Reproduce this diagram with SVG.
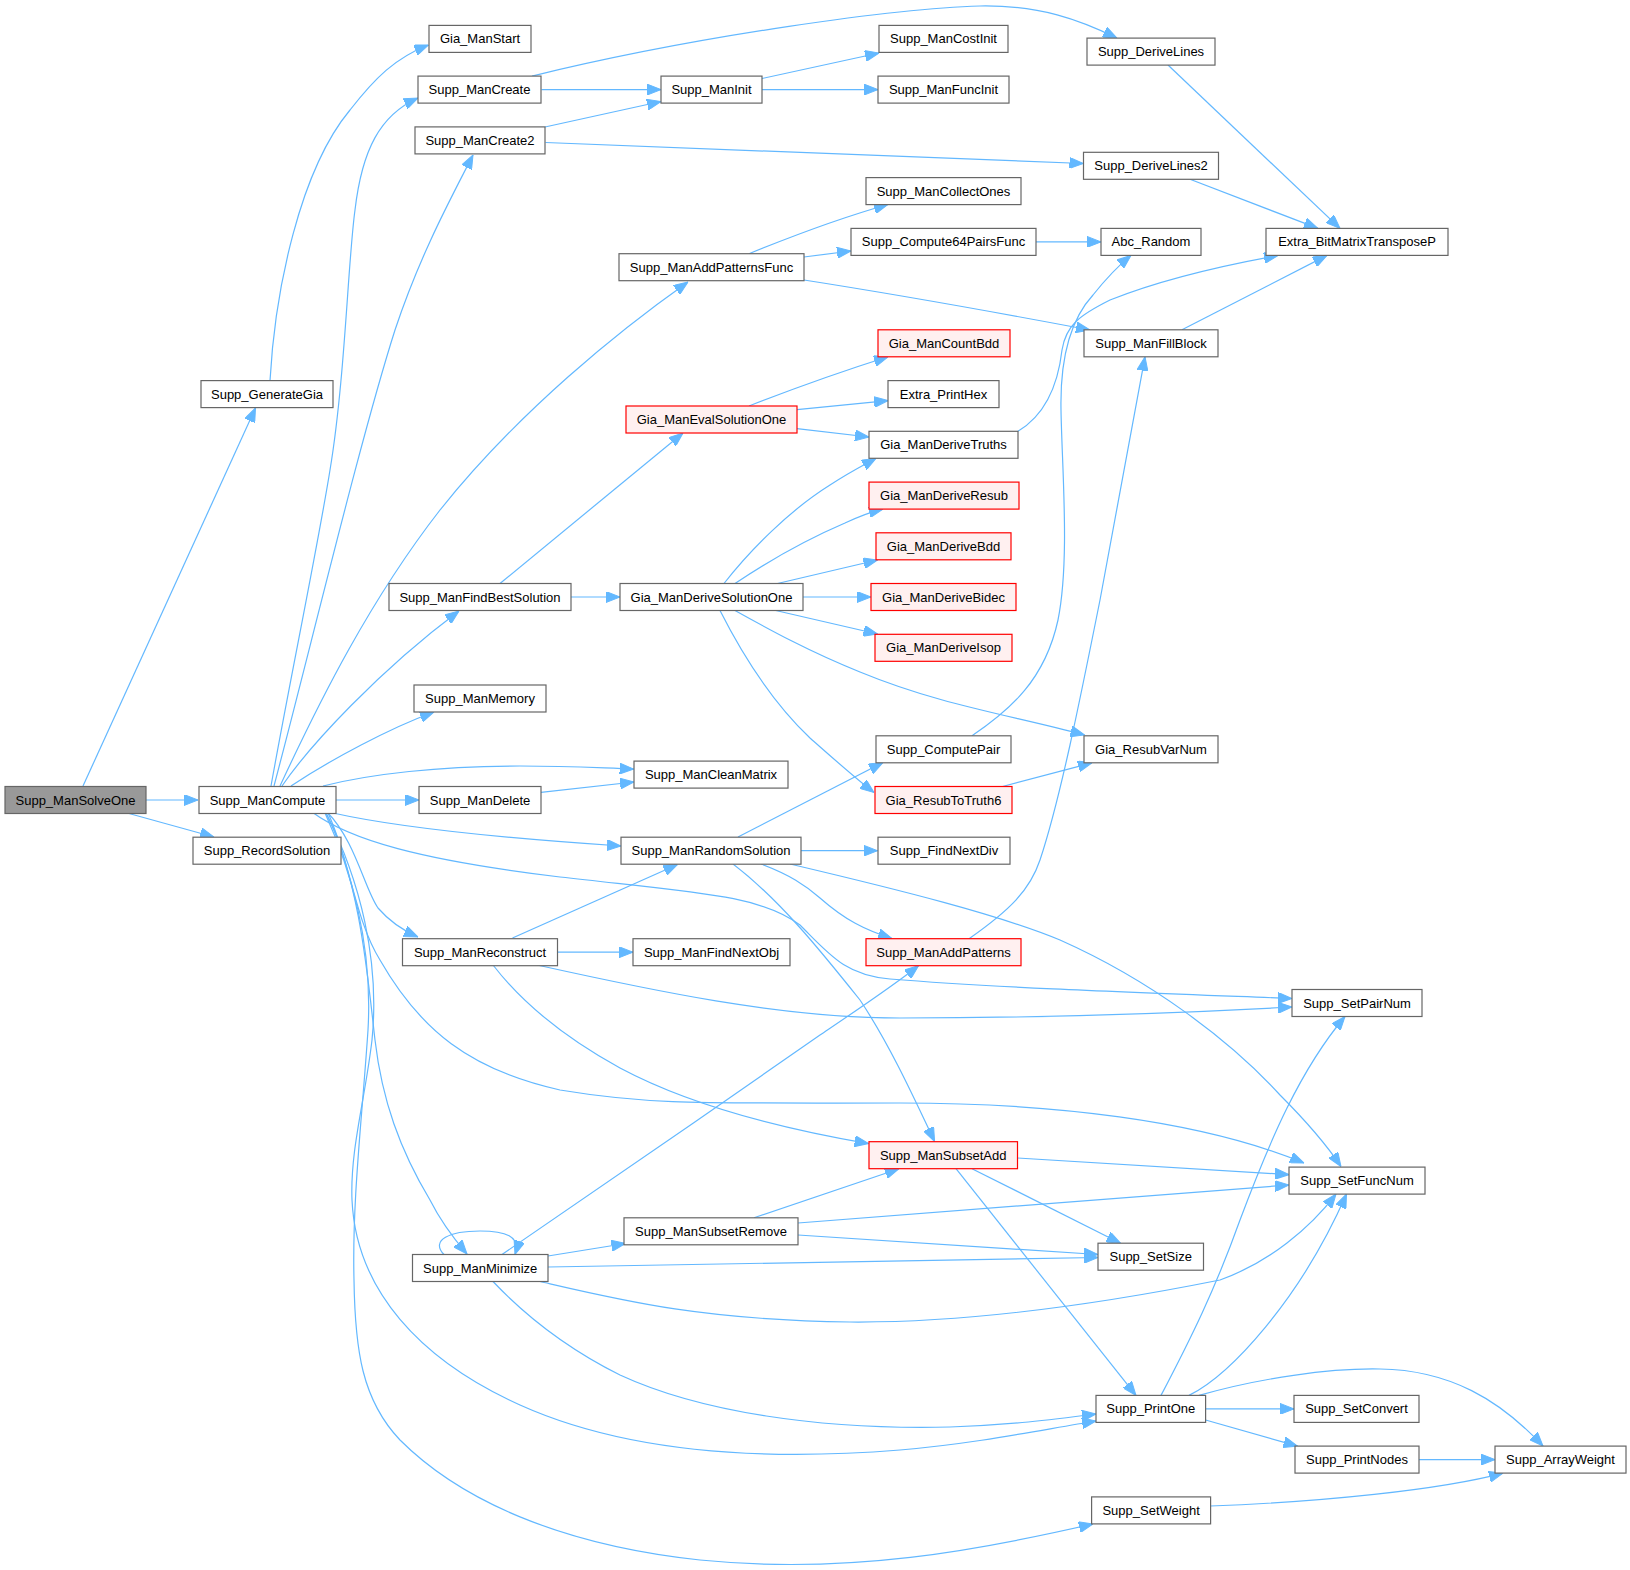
<svg xmlns="http://www.w3.org/2000/svg" width="1630" height="1570" viewBox="0 0 1630 1570">
<style>
.n rect{fill:#ffffff;stroke:#666666;stroke-width:1.2}
.n.red rect{fill:#fff0f0;stroke:#ff0000}
.n.root rect{fill:#999999;stroke:#666666}
.n text{font-family:"Liberation Sans",Arial,sans-serif;font-size:13px;fill:#000000;text-anchor:middle}
#edges path{fill:none;stroke:#63b8ff;stroke-width:1.2;marker-end:url(#arr)}
</style>
<defs>
<marker id="arr" markerUnits="userSpaceOnUse" markerWidth="14" markerHeight="11" viewBox="0 0 14 11" refX="14" refY="5.5" orient="auto">
<path d="M0,0 L14,5.5 L0,11 z" fill="#63b8ff" stroke="#63b8ff" stroke-width="1"/>
</marker>
</defs>
<rect x="0" y="0" width="1630" height="1570" fill="#ffffff"/>
<g id="edges">
<path d="M83,786 L255.5,408"/>
<path d="M146,800 L198,800"/>
<path d="M129,813.5 L214,837"/>
<path d="M270,380.6 C275,290 300,170 350,110 C375,78 395,58 428.5,45"/>
<path d="M271,786 C290,680 318,545 330,470 C345,380 348,260 355,210 C362,150 380,115 418,98"/>
<path d="M274,786 C310,650 360,440 395,330 C420,255 450,200 473,155"/>
<path d="M280,786 C320,700 370,600 440,510 C520,410 620,330 688,282"/>
<path d="M282,786 C310,745 380,670 459,611"/>
<path d="M291,786 C330,760 390,728 434,712"/>
<path d="M323,786 C370,774 440,766 520,766 C570,766 600,768 633.6,769"/>
<path d="M336,800 L419,800"/>
<path d="M333,813 C400,828 500,838 621,846"/>
<path d="M312,812 C350,840 420,860 560,877 C700,893 760,895 800,925 C830,955 845,975 890,979 C1000,988 1150,993 1292,998.5"/>
<path d="M327,812 C355,840 365,890 378,908 C390,922 402,930 418,937"/>
<path d="M328,813 C350,860 355,920 380,960 C420,1030 470,1070 560,1090 C650,1105 700,1103 900,1103 C1050,1103 1200,1120 1304,1163"/>
<path d="M326,813 C360,880 368,980 375,1040 C382,1100 400,1150 430,1200 C440,1220 455,1240 467,1254"/>
<path d="M326,813 C360,880 380,960 372,1040 C365,1100 350,1150 352,1200 C356,1290 420,1360 520,1405 C620,1450 750,1462 900,1450 C980,1443 1040,1430 1096,1421"/>
<path d="M325,813 C360,890 372,960 368,1030 C362,1120 352,1200 354,1280 C355,1350 362,1400 400,1440 C460,1500 560,1545 700,1560 C850,1575 980,1550 1093,1524"/>
<path d="M537,965 C650,990 780,1018 900,1018 C1050,1018 1200,1012 1292,1007"/>
<path d="M512.5,938 L677.5,864.5"/>
<path d="M557.5,952.2 L633,952.2"/>
<path d="M493,965 C520,1000 560,1035 620,1068 C680,1100 760,1125 868.6,1143.6"/>
<path d="M738,837 L883,762.5"/>
<path d="M801,850.7 L877.5,850.7"/>
<path d="M761,864 C790,875 805,885 820,898 C845,920 865,930 892,938.5"/>
<path d="M733,864 C780,900 820,950 860,1000 C890,1045 915,1100 934.6,1141.5"/>
<path d="M790,864 C900,890 1000,915 1060,940 C1150,980 1230,1040 1280,1095 C1310,1125 1330,1150 1341,1166.5"/>
<path d="M500,583.5 L683,433"/>
<path d="M571,597 L620,597"/>
<path d="M749,253.7 C790,237 840,218 888,204.5"/>
<path d="M804,257 L851,251"/>
<path d="M804,280 C900,295 1000,313 1090,330"/>
<path d="M1036,241.9 L1101,241.9"/>
<path d="M1168,65 L1340,228.4"/>
<path d="M1190,179.3 L1318,228.4"/>
<path d="M1182,329.8 L1327,255.4"/>
<path d="M1018,431.3 C1045,415 1058,385 1062,350 C1066,325 1080,315 1110,300 C1160,280 1220,266 1278,255.5"/>
<path d="M972,735.8 C1010,710 1045,680 1058,620 C1070,560 1062,470 1061,410 C1060,360 1070,320 1093,295 C1105,280 1118,266 1131,255.4"/>
<path d="M969,938.7 C1010,910 1030,890 1040,860 C1060,800 1080,700 1100,600 C1115,520 1130,440 1145,356.8"/>
<path d="M724,583.5 C750,550 790,510 830,485 C850,472 862,466 876,458.3"/>
<path d="M735,583.5 C770,560 810,538 845,523 C860,516 870,512 883,509.1"/>
<path d="M777.5,583.5 L877.5,560"/>
<path d="M803,597 L871,597"/>
<path d="M775.7,610.5 L877.5,634"/>
<path d="M735,610.5 C770,630 810,652 860,672 C940,705 1010,715 1084.5,735"/>
<path d="M720,610.5 C740,650 770,700 810,738 C835,760 855,778 874,792.5"/>
<path d="M749,406 C790,390 840,372 888,356.8"/>
<path d="M797,409.7 L888,400.6"/>
<path d="M797,428.7 L869,437"/>
<path d="M532,76.1 C700,35 900,8 980,6 C1040,5 1080,20 1117,38.1"/>
<path d="M541.5,89.6 L661,89.6"/>
<path d="M545,127 L661,101.5"/>
<path d="M545.5,142.5 L1083.5,163.5"/>
<path d="M762,78.5 L879,53"/>
<path d="M762,89.6 L878,89.6"/>
<path d="M541,792.3 L634,782"/>
<path d="M1002.5,786.5 L1092,762.8"/>
<path d="M1017.5,1158 L1289,1174.6"/>
<path d="M972,1168.7 L1120.5,1243.2"/>
<path d="M956,1168.7 L1136,1395.4"/>
<path d="M754,1217.8 L899,1168.7"/>
<path d="M798,1223 L1289,1185"/>
<path d="M798,1235 L1098,1254.5"/>
<path d="M548,1256 L625.5,1243.5"/>
<path d="M548,1267 L1098,1257.5"/>
<path d="M540,1281.5 C620,1300 700,1320 850,1322 C980,1323 1120,1300 1220,1280 C1270,1262 1310,1228 1336,1194.1"/>
<path d="M493,1281.5 C520,1310 560,1345 620,1375 C700,1412 820,1430 950,1427 C1010,1425 1050,1420 1096,1414"/>
<path d="M502,1254.5 C560,1215 720,1105 820,1035 C860,1008 890,988 918.6,965.7"/>
<path d="M444,1254.5 C430,1240 450,1231 480,1231 C505,1231 521,1236 515,1254.5"/>
<path d="M1161,1395.4 C1190,1340 1215,1290 1240,1220 C1270,1140 1300,1070 1345,1016.5"/>
<path d="M1189,1395.4 C1230,1375 1300,1300 1346.5,1194.1"/>
<path d="M1205.6,1408.9 L1294,1408.9"/>
<path d="M1205.6,1420 L1297.5,1446.1"/>
<path d="M1199,1395.4 C1260,1378 1330,1368 1380,1369 C1450,1370 1500,1400 1543,1446.1"/>
<path d="M1419,1459.6 L1495,1459.6"/>
<path d="M1210.5,1506 C1320,1502 1440,1490 1503,1473.1"/>
</g>
<g id="Supp_ManSolveOne" class="n root"><rect x="5" y="786.5" width="141" height="27"/><text x="75.5" y="804.5">Supp_ManSolveOne</text></g>
<g id="Supp_GenerateGia" class="n"><rect x="201" y="380.6" width="132" height="27"/><text x="267" y="398.6">Supp_GenerateGia</text></g>
<g id="Gia_ManStart" class="n"><rect x="429" y="25.4" width="102" height="27"/><text x="480" y="43.4">Gia_ManStart</text></g>
<g id="Supp_ManCreate" class="n"><rect x="418" y="76.1" width="123" height="27"/><text x="479.5" y="94.1">Supp_ManCreate</text></g>
<g id="Supp_ManCreate2" class="n"><rect x="415" y="126.9" width="130" height="27"/><text x="480" y="144.9">Supp_ManCreate2</text></g>
<g id="Supp_ManInit" class="n"><rect x="661" y="76.1" width="101" height="27"/><text x="711.5" y="94.1">Supp_ManInit</text></g>
<g id="Supp_ManCostInit" class="n"><rect x="879" y="25.4" width="129" height="27"/><text x="943.5" y="43.4">Supp_ManCostInit</text></g>
<g id="Supp_ManFuncInit" class="n"><rect x="878" y="76.1" width="131" height="27"/><text x="943.5" y="94.1">Supp_ManFuncInit</text></g>
<g id="Supp_DeriveLines" class="n"><rect x="1087" y="38.1" width="128" height="27"/><text x="1151" y="56.1">Supp_DeriveLines</text></g>
<g id="Supp_DeriveLines2" class="n"><rect x="1083.5" y="152.3" width="135" height="27"/><text x="1151" y="170.3">Supp_DeriveLines2</text></g>
<g id="Supp_ManCollectOnes" class="n"><rect x="866" y="177.6" width="155" height="27"/><text x="943.5" y="195.6">Supp_ManCollectOnes</text></g>
<g id="Supp_Compute64PairsFunc" class="n"><rect x="851" y="228.4" width="185" height="27"/><text x="943.5" y="246.4">Supp_Compute64PairsFunc</text></g>
<g id="Abc_Random" class="n"><rect x="1101" y="228.4" width="100" height="27"/><text x="1151" y="246.4">Abc_Random</text></g>
<g id="Extra_BitMatrixTransposeP" class="n"><rect x="1266" y="228.4" width="182" height="27"/><text x="1357" y="246.4">Extra_BitMatrixTransposeP</text></g>
<g id="Supp_ManAddPatternsFunc" class="n"><rect x="619" y="253.7" width="185" height="27"/><text x="711.5" y="271.7">Supp_ManAddPatternsFunc</text></g>
<g id="Supp_ManFillBlock" class="n"><rect x="1084" y="329.8" width="134" height="27"/><text x="1151" y="347.8">Supp_ManFillBlock</text></g>
<g id="Gia_ManCountBdd" class="n red"><rect x="878" y="329.8" width="132" height="27"/><text x="944" y="347.8">Gia_ManCountBdd</text></g>
<g id="Extra_PrintHex" class="n"><rect x="888" y="380.6" width="111" height="27"/><text x="943.5" y="398.6">Extra_PrintHex</text></g>
<g id="Gia_ManEvalSolutionOne" class="n red"><rect x="626" y="406" width="171" height="27"/><text x="711.5" y="424">Gia_ManEvalSolutionOne</text></g>
<g id="Gia_ManDeriveTruths" class="n"><rect x="869" y="431.3" width="149" height="27"/><text x="943.5" y="449.3">Gia_ManDeriveTruths</text></g>
<g id="Gia_ManDeriveResub" class="n red"><rect x="869" y="482.1" width="150" height="27"/><text x="944" y="500.1">Gia_ManDeriveResub</text></g>
<g id="Gia_ManDeriveBdd" class="n red"><rect x="876" y="532.8" width="135" height="27"/><text x="943.5" y="550.8">Gia_ManDeriveBdd</text></g>
<g id="Supp_ManFindBestSolution" class="n"><rect x="389" y="583.5" width="182" height="27"/><text x="480" y="601.5">Supp_ManFindBestSolution</text></g>
<g id="Gia_ManDeriveSolutionOne" class="n"><rect x="620" y="583.5" width="183" height="27"/><text x="711.5" y="601.5">Gia_ManDeriveSolutionOne</text></g>
<g id="Gia_ManDeriveBidec" class="n red"><rect x="871" y="583.5" width="145" height="27"/><text x="943.5" y="601.5">Gia_ManDeriveBidec</text></g>
<g id="Gia_ManDeriveIsop" class="n red"><rect x="875" y="634.3" width="137" height="27"/><text x="943.5" y="652.3">Gia_ManDeriveIsop</text></g>
<g id="Supp_ManMemory" class="n"><rect x="414" y="685" width="132" height="27"/><text x="480" y="703">Supp_ManMemory</text></g>
<g id="Supp_ComputePair" class="n"><rect x="876" y="735.8" width="135" height="27"/><text x="943.5" y="753.8">Supp_ComputePair</text></g>
<g id="Gia_ResubVarNum" class="n"><rect x="1084" y="735.8" width="134" height="27"/><text x="1151" y="753.8">Gia_ResubVarNum</text></g>
<g id="Supp_ManCleanMatrix" class="n"><rect x="634" y="761.1" width="154" height="27"/><text x="711" y="779.1">Supp_ManCleanMatrix</text></g>
<g id="Supp_ManCompute" class="n"><rect x="199" y="786.5" width="137" height="27"/><text x="267.5" y="804.5">Supp_ManCompute</text></g>
<g id="Supp_ManDelete" class="n"><rect x="419" y="786.5" width="122" height="27"/><text x="480" y="804.5">Supp_ManDelete</text></g>
<g id="Gia_ResubToTruth6" class="n red"><rect x="875" y="786.5" width="137" height="27"/><text x="943.5" y="804.5">Gia_ResubToTruth6</text></g>
<g id="Supp_RecordSolution" class="n"><rect x="193" y="837.2" width="148" height="27"/><text x="267" y="855.2">Supp_RecordSolution</text></g>
<g id="Supp_ManRandomSolution" class="n"><rect x="621" y="837.2" width="180" height="27"/><text x="711" y="855.2">Supp_ManRandomSolution</text></g>
<g id="Supp_FindNextDiv" class="n"><rect x="878" y="837.2" width="132" height="27"/><text x="944" y="855.2">Supp_FindNextDiv</text></g>
<g id="Supp_ManReconstruct" class="n"><rect x="402.5" y="938.7" width="155" height="27"/><text x="480" y="956.7">Supp_ManReconstruct</text></g>
<g id="Supp_ManFindNextObj" class="n"><rect x="633" y="938.7" width="157" height="27"/><text x="711.5" y="956.7">Supp_ManFindNextObj</text></g>
<g id="Supp_ManAddPatterns" class="n red"><rect x="866" y="938.7" width="155" height="27"/><text x="943.5" y="956.7">Supp_ManAddPatterns</text></g>
<g id="Supp_SetPairNum" class="n"><rect x="1292" y="989.5" width="130" height="27"/><text x="1357" y="1007.5">Supp_SetPairNum</text></g>
<g id="Supp_ManSubsetAdd" class="n red"><rect x="869" y="1141.7" width="148.5" height="27"/><text x="943.2" y="1159.7">Supp_ManSubsetAdd</text></g>
<g id="Supp_SetFuncNum" class="n"><rect x="1289" y="1167.1" width="136" height="27"/><text x="1357" y="1185.1">Supp_SetFuncNum</text></g>
<g id="Supp_ManSubsetRemove" class="n"><rect x="624" y="1217.8" width="174" height="27"/><text x="711" y="1235.8">Supp_ManSubsetRemove</text></g>
<g id="Supp_ManMinimize" class="n"><rect x="412.5" y="1254.5" width="135.5" height="27"/><text x="480.2" y="1272.5">Supp_ManMinimize</text></g>
<g id="Supp_SetSize" class="n"><rect x="1098" y="1243.2" width="105.5" height="27"/><text x="1150.7" y="1261.2">Supp_SetSize</text></g>
<g id="Supp_PrintOne" class="n"><rect x="1096" y="1395.4" width="109.6" height="27"/><text x="1150.8" y="1413.4">Supp_PrintOne</text></g>
<g id="Supp_SetConvert" class="n"><rect x="1294" y="1395.4" width="125" height="27"/><text x="1356.5" y="1413.4">Supp_SetConvert</text></g>
<g id="Supp_PrintNodes" class="n"><rect x="1295" y="1446.1" width="124" height="27"/><text x="1357" y="1464.1">Supp_PrintNodes</text></g>
<g id="Supp_ArrayWeight" class="n"><rect x="1495" y="1446.1" width="131" height="27"/><text x="1560.5" y="1464.1">Supp_ArrayWeight</text></g>
<g id="Supp_SetWeight" class="n"><rect x="1091.6" y="1496.9" width="119" height="27"/><text x="1151.1" y="1514.9">Supp_SetWeight</text></g>
</svg>
